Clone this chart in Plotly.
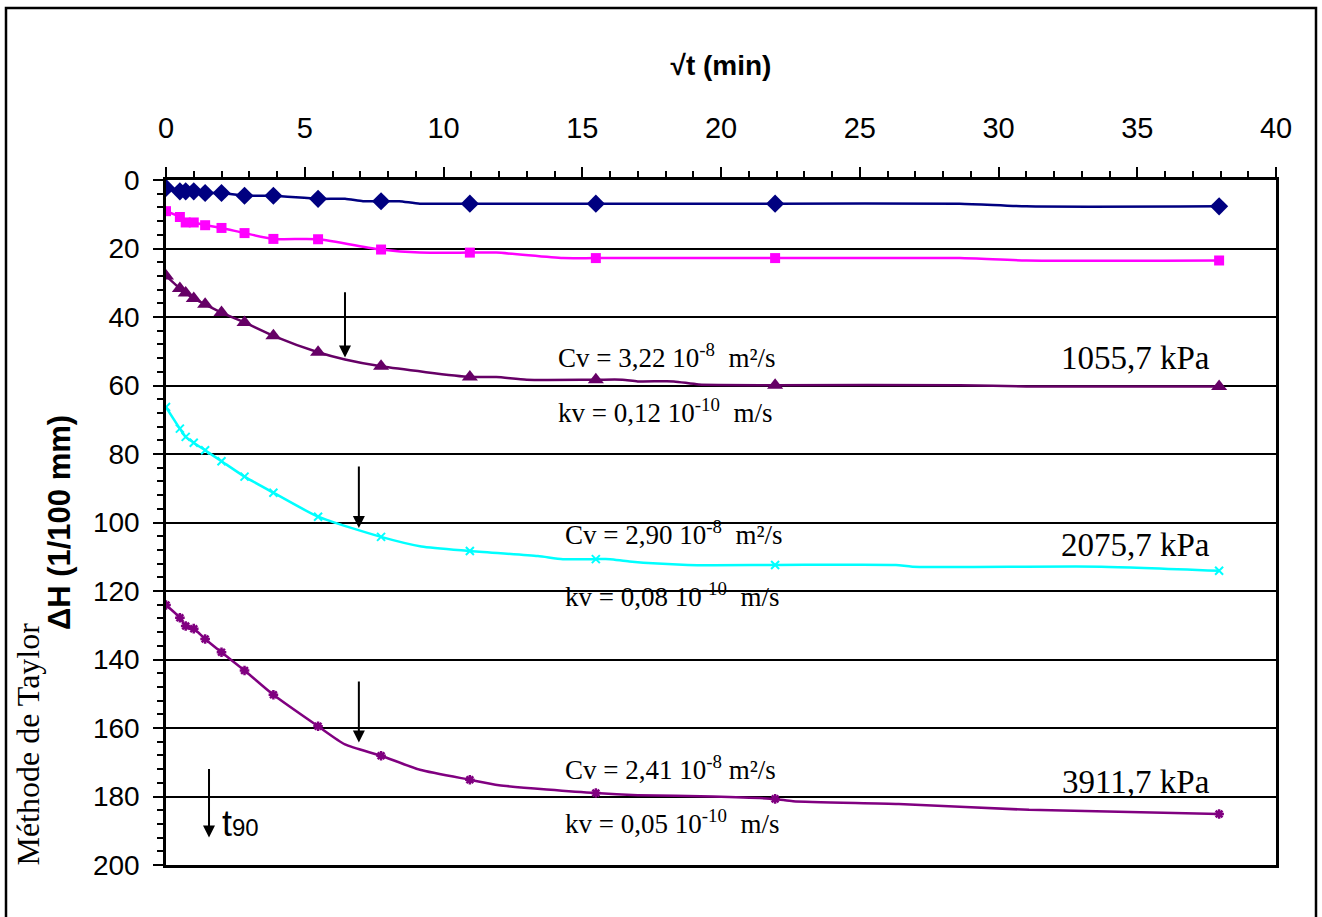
import plotly.graph_objects as go

# ---------------- data ----------------
# square root of time (min^0.5) for the measured readings
sqrt_t = [0, 0.5, 0.71, 1.0, 1.41, 2.0, 2.83, 3.87, 5.48, 7.75, 10.95, 15.49, 21.95, 37.95]

# settlement ΔH (1/100 mm), measured readings
dh_blue = [2.3, 3.3, 3.3, 3.3, 3.8, 3.8, 4.6, 4.6, 5.5, 6.2, 6.9, 6.9, 6.9, 7.7]
dh_magenta = [9.1, 10.8, 12.4, 12.4, 13.2, 14.0, 15.5, 17.2, 17.3, 20.3, 21.2, 22.8, 22.8, 23.5]
dh_1055 = [28.0, 31.7, 33.0, 34.6, 36.3, 38.7, 41.6, 45.5, 50.3, 54.4, 57.5, 58.3, 59.9, 60.3]
dh_2075 = [66.3, 72.6, 75.0, 76.7, 78.9, 82.1, 86.6, 91.3, 98.3, 104.2, 108.3, 110.7, 112.4, 114.1]
dh_3911 = [124.1, 127.8, 130.2, 131.0, 134.0, 137.9, 143.2, 150.3, 159.5, 168.1, 175.1, 179.0, 180.7, 185.1]

# additional readings drawn by the curves only (no marker)
extra_blue_x = [6.45, 7.1, 8.4, 9.15, 28.6, 31.0]
extra_blue_y = [5.5, 6.2, 6.2, 6.9, 6.9, 7.7]
extra_magenta_x = [9.15, 11.9, 14.3, 28.6, 31.0]
extra_magenta_y = [21.2, 21.2, 22.8, 22.8, 23.5]
extra_1055_x = [6.45, 11.9, 13.0, 16.45, 17.0, 18.3, 19.2, 28.6, 31.0]
extra_1055_y = [52.4, 57.5, 58.3, 58.3, 58.8, 58.8, 59.7, 59.9, 60.3]
extra_2075_x = [9.2, 13.4, 14.3, 16.0, 16.7, 18.8, 26.3, 26.9, 33.7]
extra_2075_y = [107.0, 109.8, 110.7, 110.7, 111.4, 112.4, 112.4, 112.9, 112.9]
extra_3911_x = [6.45, 9.15, 12.0, 17.0, 19.7, 22.6, 26.4, 31.1]
extra_3911_y = [164.8, 172.2, 176.7, 179.6, 180.0, 181.4, 182.2, 183.9]

x_ticks = [0, 5, 10, 15, 20, 25, 30, 35, 40]
y_ticks = [0, 20, 40, 60, 80, 100, 120, 140, 160, 180, 200]

pressures = ["1055,7 kPa", "2075,7 kPa", "3911,7 kPa"]
cv_labels = ["Cv = 3,22 10<sup>-8</sup>  m²/s", "Cv = 2,90 10<sup>-8</sup>  m²/s", "Cv = 2,41 10<sup>-8</sup> m²/s"]
kv_labels = ["kv = 0,12 10<sup>-10</sup>  m/s", "kv = 0,08 10<sup>-10</sup>  m/s", "kv = 0,05 10<sup>-10</sup>  m/s"]

# t90 arrows: (x, y start, y end)
arrows = [(6.45, 32.3, 51.8), (6.95, 83.2, 101.6), (6.95, 146.0, 164.2), (1.55, 171.5, 192.0)]

series = [
    dict(y=dh_blue, ex=extra_blue_x, ey=extra_blue_y, color="#000080", symbol="diamond", size=14, lw=0),
    dict(y=dh_magenta, ex=extra_magenta_x, ey=extra_magenta_y, color="#FF00FF", symbol="square", size=10, lw=0),
    dict(y=dh_1055, ex=extra_1055_x, ey=extra_1055_y, color="#660066", symbol="triangle-up", size=14, lw=0),
    dict(y=dh_2075, ex=extra_2075_x, ey=extra_2075_y, color="#00FFFF", symbol="x-thin-open", size=8, lw=2),
    dict(y=dh_3911, ex=extra_3911_x, ey=extra_3911_y, color="#800080", symbol="asterisk-open", size=8, lw=2.5),
]

fig = go.Figure()
for s in series:
    pts = sorted(list(zip(sqrt_t, s["y"])) + list(zip(s["ex"], s["ey"])))
    fig.add_trace(go.Scatter(
        x=[p[0] for p in pts], y=[p[1] for p in pts], mode="lines",
        line=dict(color=s["color"], width=2.5, shape="spline", smoothing=0.6),
        showlegend=False, hoverinfo="skip"))
    fig.add_trace(go.Scatter(
        x=sqrt_t, y=s["y"], mode="markers",
        marker=dict(symbol=s["symbol"], size=s["size"], color=s["color"],
                    line=dict(color=s["color"], width=s["lw"])),
        showlegend=False))

serif = "Liberation Serif, Times New Roman, serif"
sans = "Liberation Sans, Arial, sans-serif"

ann = []
cv_pos = [(14.05, 51.4), (14.3, 103.2), (14.3, 171.6)]
kv_pos = [(14.05, 67.3), (14.3, 121.2), (14.3, 187.4)]
p_pos = [(37.7, 52.0), (37.7, 106.6), (37.7, 175.8)]
for i in range(3):
    ann.append(dict(x=cv_pos[i][0], y=cv_pos[i][1], xref="x", yref="y", text=cv_labels[i],
                    showarrow=False, xanchor="left", yanchor="middle",
                    font=dict(family=serif, size=27, color="black")))
    ann.append(dict(x=kv_pos[i][0], y=kv_pos[i][1], xref="x", yref="y", text=kv_labels[i],
                    showarrow=False, xanchor="left", yanchor="middle",
                    font=dict(family=serif, size=27, color="black")))
    ann.append(dict(x=p_pos[i][0], y=p_pos[i][1], xref="x", yref="y", text=pressures[i],
                    showarrow=False, xanchor="right", yanchor="middle",
                    font=dict(family=serif, size=33, color="black")))
for ax_, y0, y1 in arrows:
    ann.append(dict(x=ax_, y=y1, ax=ax_, ay=y0, xref="x", yref="y", axref="x", ayref="y",
                    text="", showarrow=True, arrowhead=2, arrowsize=1.2, arrowwidth=2,
                    arrowcolor="black"))
ann.append(dict(x=1.95, y=188.0, xref="x", yref="y",
                text="t<span style='font-size:24px'>90</span>", showarrow=False,
                xanchor="left", yanchor="middle", font=dict(family=sans, size=36, color="black")))
ann.append(dict(x=-0.1245, y=0.177, xref="paper", yref="paper", text="Méthode de Taylor",
                textangle=-90, showarrow=False, xanchor="center", yanchor="middle",
                font=dict(family=serif, size=32, color="black")))

fig.update_layout(
    width=1322, height=917,
    margin=dict(l=166, r=46, t=180, b=52),
    paper_bgcolor="white", plot_bgcolor="white",
    annotations=ann,
    shapes=[dict(type="rect", xref="paper", yref="paper",
                 x0=(6 - 166) / 1110, x1=(1316 - 166) / 1110,
                 y0=-0.2, y1=1 + (180 - 8) / 685,
                 line=dict(color="black", width=2.5), fillcolor="rgba(0,0,0,0)")],
)
fig.update_xaxes(
    side="top", range=[0, 40], tickvals=x_ticks, ticktext=[str(v) for v in x_ticks],
    showgrid=False, zeroline=False, showline=True, linecolor="black", linewidth=2.5, mirror=True,
    ticks="outside", ticklen=10, tickwidth=2, tickcolor="black",
    minor=dict(dtick=1, ticks="outside", ticklen=6, tickwidth=2, tickcolor="black"),
    tickfont=dict(family=sans, size=29, color="black"), ticklabelstandoff=18,
    title=dict(text="<b>√t (min)</b>", font=dict(family=sans, size=28, color="black"), standoff=28),
)
fig.update_yaxes(
    range=[200, 0], tickvals=y_ticks, ticktext=[str(v) for v in y_ticks],
    showgrid=True, gridcolor="black", gridwidth=2, zeroline=False,
    showline=True, linecolor="black", linewidth=2.5, mirror=True,
    ticks="outside", ticklen=10, tickwidth=2, tickcolor="black",
    minor=dict(dtick=4, ticks="outside", ticklen=6, tickwidth=2, tickcolor="black", showgrid=False),
    tickfont=dict(family=sans, size=28, color="black"), ticklabelstandoff=8,
    title=dict(text="<b>ΔH (1/100 mm)</b>", font=dict(family=sans, size=31, color="black"), standoff=14),
)

fig.write_html("out.html", config={"displayModeBar": False},
               post_script="document.body.style.margin='0';document.body.style.overflow='hidden';")
